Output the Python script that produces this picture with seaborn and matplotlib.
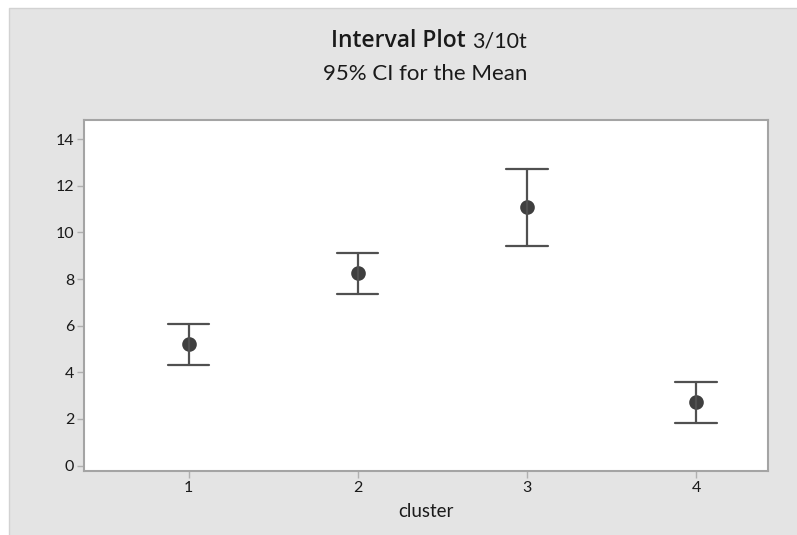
import numpy as np
import pandas as pd
import seaborn as sns
import matplotlib.pyplot as plt
from matplotlib.patches import Rectangle

# Interval summary per cluster: mean with 95% CI bounds
clusters = ["1", "2", "3", "4"]
means = [5.21, 8.28, 11.09, 2.72]
ci_lower = [4.31, 7.38, 9.42, 1.82]
ci_upper = [6.07, 9.13, 12.73, 3.58]
yticks = [0, 2, 4, 6, 8, 10, 12, 14]

sns.set_theme(style="white")
plt.rcParams["font.family"] = ["Lato", "DejaVu Sans"]

# Long form: lower, mean, upper per cluster -> median gives the mean,
# the 100% percentile interval spans the CI bounds.
rows = []
for c, lo, m, hi in zip(clusters, ci_lower, means, ci_upper):
    for v in (lo, m, hi):
        rows.append({"cluster": c, "value": v})
df = pd.DataFrame(rows)

W, H = 797, 535
fig = plt.figure(figsize=(W / 100, H / 100), dpi=100, facecolor="white")
fig.patches.append(Rectangle((9 / W, -0.02), 1.0, 1.02 - 8 / H,
                             transform=fig.transFigure, facecolor="#e4e4e4",
                             edgecolor="#d2d2d2", linewidth=1.0, zorder=-1))

ax = fig.add_axes([84 / W, 64 / H, (768 - 84) / W, (471 - 120) / H])
ax.set_facecolor("white")

sns.pointplot(data=df, x="cluster", y="value", order=clusters,
              estimator="median", errorbar=("pi", 100), capsize=0.244,
              color="#3f3f3f", linestyle="none", markers="o", markersize=8.5,
              err_kws={"linewidth": 1.6, "color": "#505050"}, ax=ax)

ax.set_xlim(-0.618, 3.425)
ax.set_ylim(-0.23, 14.82)
ax.set_yticks(yticks)
ax.set_yticklabels([str(t) for t in yticks])

for s in ax.spines.values():
    s.set_color("#a4a4a4")
    s.set_linewidth(1.5)

ax.tick_params(axis="both", bottom=True, left=True, direction="out",
               length=5, width=1, color="#b0b0b0", labelsize=11.5,
               labelcolor="#1a1a1a", pad=2)

ax.set_ylabel("")
ax.set_xlabel("cluster", fontsize=13.5, color="#1a1a1a", labelpad=6)

fig.text(466 / W, 1 - 41 / H, "Interval Plot", ha="right", va="center",
         fontsize=16.5, fontweight="semibold", color="#1a1a1a",
         family=["Open Sans", "DejaVu Sans"])
fig.text(472 / W, 1 - 41 / H, "3/10t", ha="left", va="center",
         fontsize=15.5, color="#1a1a1a")
fig.text(425 / W, 1 - 74 / H, "95% CI for the Mean", ha="center", va="center",
         fontsize=16, color="#1a1a1a")

fig.savefig("out.png", dpi=100, facecolor=fig.get_facecolor())
